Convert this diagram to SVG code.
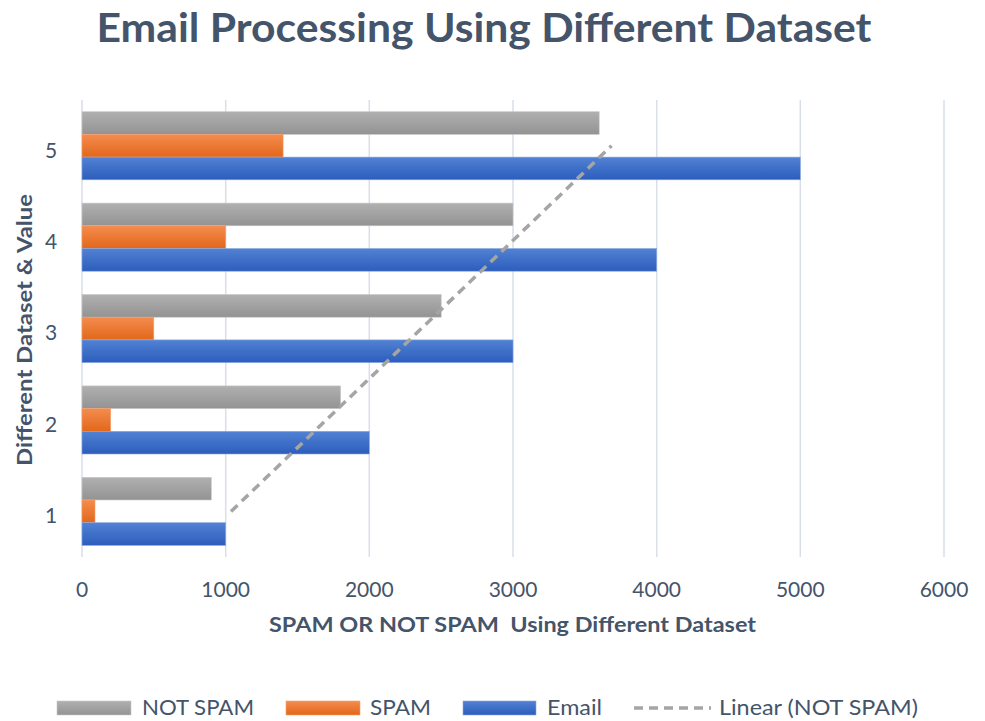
<svg xmlns="http://www.w3.org/2000/svg" width="985" height="721" viewBox="0 0 985 721">
  <defs>
    <linearGradient id="gGrey" x1="0" y1="0" x2="0" y2="1">
      <stop offset="0" stop-color="#B0B0B0"/>
      <stop offset="1" stop-color="#939393"/>
    </linearGradient>
    <linearGradient id="gOrange" x1="0" y1="0" x2="0" y2="1">
      <stop offset="0" stop-color="#F48C4E"/>
      <stop offset="1" stop-color="#E2671A"/>
    </linearGradient>
    <linearGradient id="gBlue" x1="0" y1="0" x2="0" y2="1">
      <stop offset="0" stop-color="#5182D4"/>
      <stop offset="1" stop-color="#2C5DBC"/>
    </linearGradient>
    <style>
      .grid { stroke: #D9DEE8; stroke-width: 1.5; }
      .notspam { fill: url(#gGrey); stroke: #C8C8C8; stroke-width: 0.6; }
      .spam { fill: url(#gOrange); stroke: #F3A06E; stroke-width: 0.6; }
      .email { fill: url(#gBlue); stroke: #8AA8E0; stroke-width: 0.6; }
      .trend { fill: none; stroke: #A5A5A5; stroke-width: 3.5; stroke-dasharray: 9 6; }
      .tick { font-family: Lato, "Open Sans", sans-serif; font-size: 21px; fill: #44546A; }
      .axtitle { font-family: Lato, "Open Sans", sans-serif; font-size: 20px; font-weight: bold; fill: #44546A; }
      .title { font-family: Lato, "Open Sans", sans-serif; font-size: 40px; font-weight: bold; fill: #44546A; }
      .legend { font-family: Lato, "Open Sans", sans-serif; font-size: 21px; fill: #44546A; }
    </style>
  </defs>

  <rect width="985" height="721" fill="#FFFFFF"/>

  <!-- chart title -->
  <text class="title" x="484" y="42" text-anchor="middle" textLength="775" lengthAdjust="spacingAndGlyphs">Email Processing Using Different Dataset</text>

  <!-- vertical gridlines, one per 1000 -->
  <g id="gridlines">
    <line class="grid" x1="82" y1="100" x2="82" y2="557"/>
    <line class="grid" x1="225.7" y1="100" x2="225.7" y2="557"/>
    <line class="grid" x1="369.3" y1="100" x2="369.3" y2="557"/>
    <line class="grid" x1="513" y1="100" x2="513" y2="557"/>
    <line class="grid" x1="656.7" y1="100" x2="656.7" y2="557"/>
    <line class="grid" x1="800.3" y1="100" x2="800.3" y2="557"/>
    <line class="grid" x1="944" y1="100" x2="944" y2="557"/>
  </g>

  <!-- bars per dataset: NOT SPAM, SPAM, Email -->
  <g id="dataset-5">
    <rect class="notspam" x="82" y="111.7" width="517.2" height="22.7"/>
    <rect class="spam" x="82" y="134.4" width="201.1" height="22.7"/>
    <rect class="email" x="82" y="157.1" width="718.3" height="22.7"/>
  </g>
  <g id="dataset-4">
    <rect class="notspam" x="82" y="203.1" width="431" height="22.7"/>
    <rect class="spam" x="82" y="225.8" width="143.7" height="22.7"/>
    <rect class="email" x="82" y="248.5" width="574.7" height="22.7"/>
  </g>
  <g id="dataset-3">
    <rect class="notspam" x="82" y="294.5" width="359.2" height="22.7"/>
    <rect class="spam" x="82" y="317.2" width="71.8" height="22.7"/>
    <rect class="email" x="82" y="339.9" width="431" height="22.7"/>
  </g>
  <g id="dataset-2">
    <rect class="notspam" x="82" y="385.9" width="258.6" height="22.7"/>
    <rect class="spam" x="82" y="408.6" width="28.7" height="22.7"/>
    <rect class="email" x="82" y="431.3" width="287.3" height="22.7"/>
  </g>
  <g id="dataset-1">
    <rect class="notspam" x="82" y="477.3" width="129.3" height="22.7"/>
    <rect class="spam" x="82" y="500" width="13" height="22.7"/>
    <rect class="email" x="82" y="522.7" width="143.7" height="22.7"/>
  </g>

  <!-- linear trend of NOT SPAM -->
  <g id="connectors">
    <line class="trend" x1="231" y1="511.5" x2="611.5" y2="145.8"/>
  </g>

  <!-- category axis labels -->
  <g id="y-ticks">
    <text class="tick" x="51" y="158" text-anchor="middle">5</text>
    <text class="tick" x="51" y="249" text-anchor="middle">4</text>
    <text class="tick" x="51" y="340" text-anchor="middle">3</text>
    <text class="tick" x="51" y="432" text-anchor="middle">2</text>
    <text class="tick" x="51" y="523" text-anchor="middle">1</text>
  </g>

  <!-- value axis labels -->
  <g id="x-ticks">
    <text class="tick" x="82" y="597" text-anchor="middle">0</text>
    <text class="tick" x="225.7" y="597" text-anchor="middle">1000</text>
    <text class="tick" x="369.3" y="597" text-anchor="middle">2000</text>
    <text class="tick" x="513" y="597" text-anchor="middle">3000</text>
    <text class="tick" x="656.7" y="597" text-anchor="middle">4000</text>
    <text class="tick" x="800.3" y="597" text-anchor="middle">5000</text>
    <text class="tick" x="944" y="597" text-anchor="middle">6000</text>
  </g>

  <!-- axis titles -->
  <text class="axtitle" x="512.5" y="632" text-anchor="middle" textLength="487" lengthAdjust="spacingAndGlyphs" xml:space="preserve">SPAM OR NOT SPAM  Using Different Dataset</text>
  <text class="axtitle" transform="translate(32 330) rotate(-90)" x="0" y="0" text-anchor="middle" textLength="272" lengthAdjust="spacingAndGlyphs">Different Dataset &amp; Value</text>

  <!-- legend -->
  <g id="legend">
    <rect class="notspam" x="57" y="701" width="74" height="14"/>
    <text class="legend" x="142" y="715" textLength="112" lengthAdjust="spacingAndGlyphs">NOT SPAM</text>
    <rect class="spam" x="286" y="701" width="74" height="14"/>
    <text class="legend" x="370" y="715" textLength="61" lengthAdjust="spacingAndGlyphs">SPAM</text>
    <rect class="email" x="463" y="701" width="73" height="14"/>
    <text class="legend" x="547" y="715" textLength="55" lengthAdjust="spacingAndGlyphs">Email</text>
    <line class="trend" x1="634" y1="708" x2="711" y2="708" stroke-dasharray="9 5"/>
    <text class="legend" x="719" y="715" textLength="199" lengthAdjust="spacingAndGlyphs">Linear (NOT SPAM)</text>
  </g>
</svg>
